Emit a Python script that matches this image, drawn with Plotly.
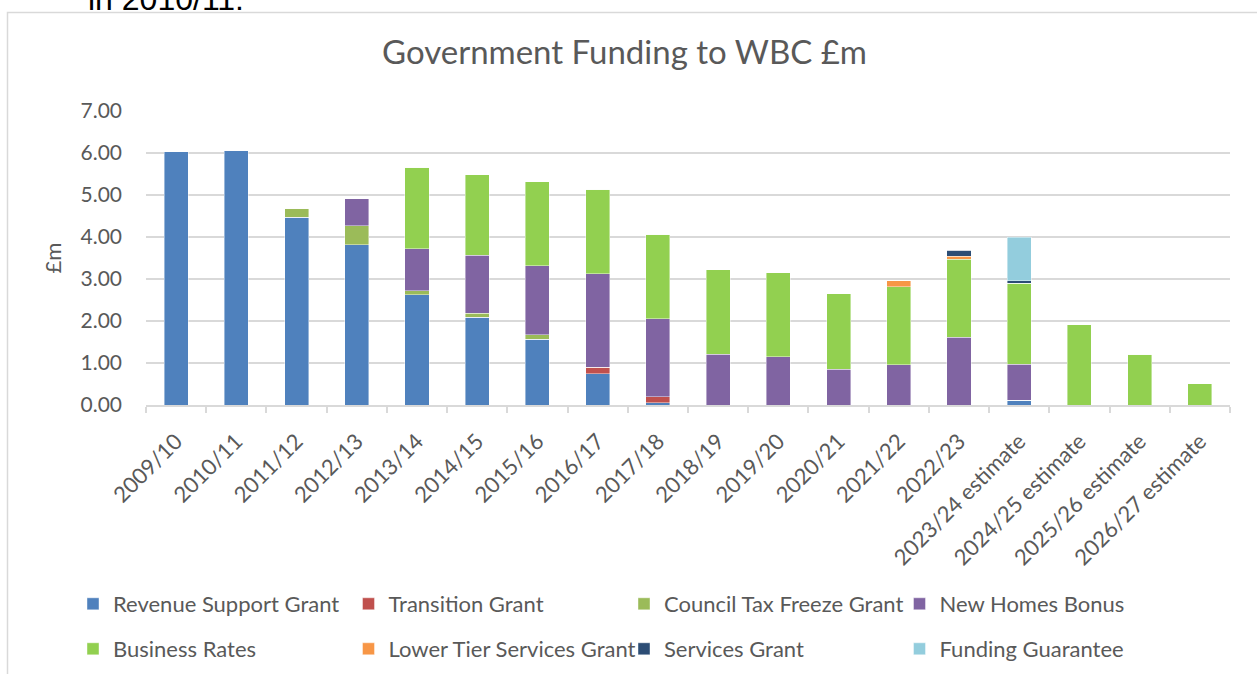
import plotly.graph_objects as go

years = ["2009/10", "2010/11", "2011/12", "2012/13", "2013/14", "2014/15", "2015/16",
         "2016/17", "2017/18", "2018/19", "2019/20", "2020/21", "2021/22", "2022/23",
         "2023/24 estimate", "2024/25 estimate", "2025/26 estimate", "2026/27 estimate"]

revenue_support_grant = [6.03, 6.06, 4.47, 3.82, 2.62, 2.09, 1.56, 0.75, 0.05, 0, 0, 0, 0, 0, 0.11, 0, 0, 0]
transition_grant      = [0, 0, 0, 0, 0, 0, 0, 0.15, 0.15, 0, 0, 0, 0, 0, 0, 0, 0, 0]
council_tax_freeze    = [0, 0, 0.22, 0.45, 0.10, 0.10, 0.11, 0, 0, 0, 0, 0, 0, 0, 0, 0, 0, 0]
new_homes_bonus       = [0, 0, 0, 0.64, 1.00, 1.37, 1.65, 2.23, 1.85, 1.21, 1.15, 0.85, 0.96, 1.61, 0.86, 0, 0, 0]
business_rates        = [0, 0, 0, 0, 1.94, 1.92, 2.00, 2.01, 2.01, 2.01, 2.00, 1.80, 1.86, 1.86, 1.93, 1.91, 1.21, 0.51]
lower_tier_services   = [0, 0, 0, 0, 0, 0, 0, 0, 0, 0, 0, 0, 0.14, 0.07, 0, 0, 0, 0]
services_grant        = [0, 0, 0, 0, 0, 0, 0, 0, 0, 0, 0, 0, 0, 0.14, 0.06, 0, 0, 0]
funding_guarantee     = [0, 0, 0, 0, 0, 0, 0, 0, 0, 0, 0, 0, 0, 0, 1.03, 0, 0, 0]

series_names = ["Revenue Support Grant", "Transition Grant", "Council Tax Freeze Grant", "New Homes Bonus",
                "Business Rates", "Lower Tier Services Grant", "Services Grant", "Funding Guarantee"]
series_values = [revenue_support_grant, transition_grant, council_tax_freeze, new_homes_bonus,
                 business_rates, lower_tier_services, services_grant, funding_guarantee]
series_colors = ["#4F81BD", "#C0504D", "#9BBB59", "#8064A2",
                 "#92D050", "#F79646", "#2C4D75", "#93CDDD"]

FONT = "Lato"
GREY = "#595959"

W, H = 1257, 674
L, R, T, B = 146, 27, 111, 269
pw, ph = W - L - R, H - T - B

def px_x(px):
    return (px - L) / pw

def px_y(py):
    return (H - B - py) / ph

fig = go.Figure()
legends = {}
for i, (name, vals, color) in enumerate(zip(series_names, series_values, series_colors)):
    key = "legend" if i == 0 else f"legend{i + 1}"
    fig.add_trace(go.Bar(
        name=name, x=years, y=vals, legend=key, showlegend=True,
        marker=dict(color=color, line=dict(color="rgba(255,255,255,0.6)", width=0.7)),
    ))
    col, row = i % 4, i // 4
    legends[key] = dict(
        orientation="h", xref="container", yref="container",
        xanchor="left", yanchor="middle",
        x=(73 + 275.5 * col) / W, y=1 - (604 + 45 * row) / H,
        font=dict(family=FONT, size=22, color=GREY),
        bgcolor="rgba(0,0,0,0)", itemwidth=30,
    )

fig.update_layout(
    width=W, height=H, showlegend=True,
    margin=dict(l=L, r=R, t=T, b=B),
    paper_bgcolor="white", plot_bgcolor="white",
    barmode="stack", bargap=0.6,
    title=dict(text="Government Funding to WBC £m", x=624.5 / W, xref="container", xanchor="center",
               y=1 - 52 / H, yref="container", yanchor="middle",
               font=dict(family=FONT, size=33, color=GREY)),
    font=dict(family=FONT, color=GREY),
    xaxis=dict(
        type="category", tickangle=-45, tickson="boundaries", ticks="outside",
        ticklen=6, tickcolor="#D9D9D9", tickwidth=1.5,
        showline=True, linecolor="#D9D9D9", linewidth=1.5,
        tickfont=dict(family=FONT, size=22, color=GREY), showgrid=False,
        ticklabelstandoff=13,
    ),
    yaxis=dict(
        range=[0, 7], dtick=1, tickformat=".2f",
        showgrid=True, gridcolor="#D9D9D9", gridwidth=1.5, zeroline=False,
        tickfont=dict(family=FONT, size=21, color=GREY), ticklabelstandoff=23,
        title=dict(text="£m", font=dict(family=FONT, size=22, color=GREY), standoff=12),
        ticks="", showline=False,
    ),
    shapes=[dict(type="rect", xref="paper", yref="paper",
                 x0=px_x(7.5), x1=px_x(1275), y0=px_y(700), y1=px_y(12.5),
                 line=dict(color="#D9D9D9", width=1.5), fillcolor="rgba(0,0,0,0)", layer="below")],
    annotations=[dict(text="in 2010/11:", xref="paper", yref="paper", x=px_x(86), y=px_y(19),
                      xanchor="left", yanchor="bottom", showarrow=False,
                      font=dict(family="Liberation Sans", size=32, color="black"))],
    **legends,
)

fig.write_html("out.html", config={"displayModeBar": False},
               post_script="document.body.style.margin='0px';document.body.style.overflow='hidden';")
